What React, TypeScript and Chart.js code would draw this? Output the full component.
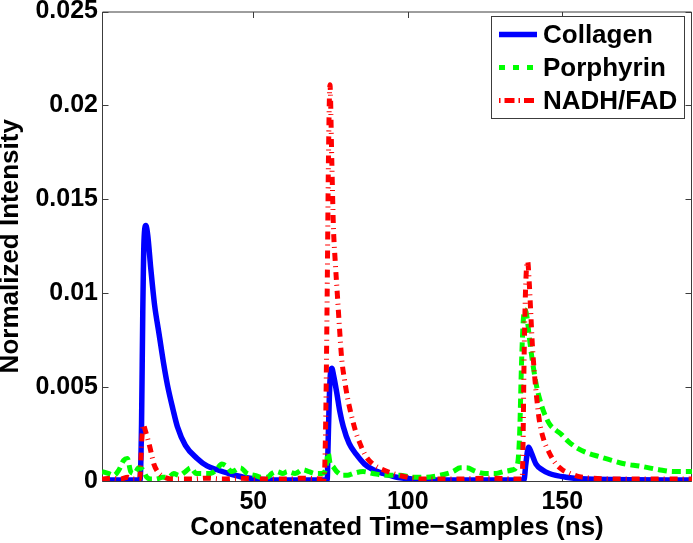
import React, { useEffect, useRef } from "react";
import { Chart, registerables } from "chart.js";

Chart.register(...registerables);

const X_MIN = 1;
const X_MAX = 192;
const Y_MIN = 0;
const Y_MAX = 0.025;
const X_TICKS = [50, 100, 150];
const Y_TICKS = [0, 0.005, 0.01, 0.015, 0.02, 0.025];
const Y_TICK_LABELS = ["0", "0.005", "0.01", "0.015", "0.02", "0.025"];
const SERIES_LABELS = ["Collagen", "Porphyrin", "NADH/FAD"];
const X_TITLE = "Concatenated Time\u2212samples (ns)";
const Y_TITLE = "Normalized Intensity";

const COLLAGEN: [number, number][] = [
  [1, 0.00005], [10, 0.00005], [13.3, 0.00005], [13.8, 0.003], [14.2, 0.009], [14.6, 0.0128],
  [15.2, 0.0136], [15.8, 0.0131], [16.8, 0.0113], [18, 0.0094], [19.5, 0.0078], [21, 0.0062],
  [22.2, 0.0051], [24, 0.0038], [25.4, 0.0029], [28, 0.0019], [31.8, 0.0012], [35, 0.0008],
  [38.3, 0.0006], [42, 0.0004], [46.8, 0.0002], [52, 0.0001], [60, 0.00005], [73.9, 0.00005],
  [74.2, 0.002], [74.6, 0.0045], [75.0, 0.0058], [75.4, 0.006], [76, 0.0056], [77, 0.0047],
  [78, 0.0037], [79.1, 0.0029], [81, 0.002], [83.4, 0.0014], [86, 0.0009], [88.8, 0.0006],
  [92, 0.0004], [96.4, 0.0002], [102, 0.0001], [110, 0.00005], [137.6, 0.00005], [138.2, 0.0009],
  [139.1, 0.0018], [140, 0.0015], [141.5, 0.0009], [143.5, 0.0006], [145.8, 0.0004], [151.2, 0.0002],
  [158, 0.0001], [192, 0.00005],
];

const PORPHYRIN: [number, number][] = [
  [1, 0.0005], [3, 0.0004], [4.8, 0.0003], [6.5, 0.0006], [8, 0.0011], [9.2, 0.0012], [10.3, 0.0005],
  [11.5, 0.0004], [12.9, 0.0007], [14.2, 0.0006], [15.5, 0.0002], [16.8, 0.0001], [18.5, 0.0001],
  [20.5, 0.0002], [22.5, 0.0002], [24.2, 0.0004], [26, 0.0003], [28, 0.0005], [29.7, 0.0007],
  [31.5, 0.0004], [33.9, 0.0004], [36.1, 0.0004], [38, 0.0006], [39.8, 0.0009], [41.2, 0.0008],
  [43, 0.0005], [45.8, 0.0007], [48, 0.0004], [50.5, 0.0003], [52.5, 0.0002], [54.5, 0.0002],
  [56, 0.0004], [57.7, 0.0005], [59.5, 0.0004], [61, 0.0005], [63.5, 0.0004], [66, 0.0006],
  [68, 0.0005], [70, 0.0004], [72, 0.0004], [73.4, 0.0006], [74.2, 0.0015], [74.9, 0.0009],
  [75.6, 0.0008], [77, 0.0005], [79, 0.0003], [80.5, 0.0003], [82.3, 0.0004], [85.5, 0.0005],
  [88.7, 0.0004], [93.1, 0.0003], [97.4, 0.0003], [101.7, 0.0002], [106, 0.0002], [110.3, 0.0003],
  [114.6, 0.0005], [117, 0.0007], [119, 0.0007], [122.2, 0.0005], [125, 0.0004], [128.6, 0.0004],
  [131, 0.0005], [134, 0.0006], [135.5, 0.0009], [136.2, 0.0025], [136.8, 0.0062], [137.4, 0.0086],
  [138, 0.0091], [138.6, 0.0087], [139.3, 0.0077], [139.9, 0.0069], [140.7, 0.006], [141.5, 0.0052],
  [142.8, 0.0043], [144.2, 0.0036], [146, 0.003], [148, 0.0027], [149.6, 0.0025], [152, 0.0021],
  [154.4, 0.0018], [158, 0.0015], [161.9, 0.0013], [166, 0.0011], [170.5, 0.0009], [175, 0.0008],
  [181.3, 0.0006], [186, 0.0005], [192, 0.0005],
];

const NADH_FAD: [number, number][] = [
  [1, 0.0001], [4, 0.00015], [7, 0.0001], [9.3, 0.0002], [11, 0.0001], [13.2, 0.0001], [13.6, 0.0012],
  [14, 0.0025], [14.4, 0.003], [15, 0.0027], [15.7, 0.0023], [16.5, 0.0018], [17.2, 0.0013],
  [17.8, 0.0009], [19, 0.0005], [21, 0.00022], [24, 0.0001], [30, 0.0001], [35, 0.00015], [40, 0.0001],
  [46, 0.00015], [52, 0.0001], [60, 0.0001], [66, 0.00015], [72.9, 0.0001], [73.4, 0.003],
  [73.9, 0.01], [74.3, 0.017], [74.8, 0.0211], [75.4, 0.017], [75.9, 0.0136], [76.5, 0.0117],
  [77.2, 0.0099], [77.9, 0.0081], [78.6, 0.0065], [79.5, 0.0054], [80.4, 0.0045], [81.3, 0.0038],
  [83, 0.0027], [84.5, 0.002], [86.5, 0.0013], [88.7, 0.0009], [92, 0.0006], [95.2, 0.0004],
  [100, 0.0002], [105, 0.0001], [115, 0.0001], [125, 0.00015], [137, 0.0001], [137.3, 0.002],
  [137.6, 0.006], [138, 0.0095], [138.4, 0.0113], [138.8, 0.0117], [139.3, 0.0106], [139.7, 0.0093],
  [140.3, 0.0073], [141, 0.0057], [141.8, 0.0043], [142.6, 0.0032], [144, 0.0022], [145.8, 0.0015],
  [148, 0.0009], [150, 0.0006], [152.5, 0.0004], [155.5, 0.00023], [160, 0.00015], [170, 0.0001],
  [180, 0.0001], [192, 0.0001],
];

const FAMILY = '"Liberation Sans", Arial, Helvetica, sans-serif';
const AXIS_COLOR = "#3c3c3c";
const LEGEND_DASHES = [[], [6, 8], [1.5, 4, 10, 4]];

const framePlugin = {
  id: "matlabFrame",
  beforeDatasetsDraw(chart: any) {
    const { ctx, chartArea: a } = chart;
    const xs = chart.scales.x;
    const ys = chart.scales.y;
    const L = a.left + 0.5;
    const R = a.right - 0.5;
    const T = a.top + 0.5;
    const B = a.bottom + 0.5;
    ctx.save();
    ctx.strokeStyle = AXIS_COLOR;
    ctx.lineWidth = 1;
    ctx.beginPath();
    ctx.rect(L, T, R - L, B - T);
    for (const t of xs.ticks) {
      const px = Math.round(xs.getPixelForValue(t.value)) + 0.5;
      ctx.moveTo(px, B);
      ctx.lineTo(px, B - 6);
      ctx.moveTo(px, T);
      ctx.lineTo(px, T + 6);
    }
    for (const t of ys.ticks) {
      const py = Math.round(ys.getPixelForValue(t.value)) + 0.5;
      ctx.moveTo(L, py);
      ctx.lineTo(L + 6, py);
      ctx.moveTo(R, py);
      ctx.lineTo(R - 6, py);
    }
    ctx.stroke();
    ctx.restore();
  },
};

const legendPlugin = {
  id: "boxLegend",
  afterDatasetsDraw(chart: any) {
    const ctx = chart.ctx;
    const x0 = 491.5;
    const y0 = 16.5;
    const w = 193;
    const h = 102;
    ctx.save();
    ctx.fillStyle = "#ffffff";
    ctx.fillRect(x0, y0, w, h);
    ctx.strokeStyle = AXIS_COLOR;
    ctx.lineWidth = 1;
    ctx.strokeRect(x0, y0, w, h);
    chart.data.datasets.forEach((ds: any, i: number) => {
      const y = 34.5 + i * 33;
      ctx.strokeStyle = ds.borderColor;
      ctx.lineWidth = ds.borderWidth;
      ctx.lineCap = "butt";
      ctx.setLineDash(LEGEND_DASHES[i]);
      ctx.beginPath();
      ctx.moveTo(499, y);
      ctx.lineTo(537, y);
      ctx.stroke();
      ctx.setLineDash([]);
      ctx.fillStyle = "#000";
      ctx.font = `bold 26px ${FAMILY}`;
      ctx.textBaseline = "middle";
      ctx.textAlign = "left";
      ctx.fillText(ds.label, 543, y + 1);
    });
    ctx.restore();
  },
};

const toPoints = (arr: [number, number][]) => arr.map(([x, y]) => ({ x, y }));

export default function App() {
  const canvasRef = useRef<HTMLCanvasElement | null>(null);

  useEffect(() => {
    document.body.style.margin = "0";
    const canvas = canvasRef.current;
    if (!canvas) return;
    const chart = new Chart(canvas, {
      type: "line",
      data: {
        datasets: [
          {
            label: SERIES_LABELS[0],
            data: toPoints(COLLAGEN),
            borderColor: "#0000ff",
            borderWidth: 5.5,
            pointRadius: 0,
            cubicInterpolationMode: "monotone",
            clip: 0,
            order: 3,
          },
          {
            label: SERIES_LABELS[1],
            data: toPoints(PORPHYRIN),
            borderColor: "#00ff00",
            borderWidth: 5,
            borderDash: [9, 5],
            pointRadius: 0,
            cubicInterpolationMode: "monotone",
            clip: 0,
            order: 2,
          },
          {
            label: SERIES_LABELS[2],
            data: toPoints(NADH_FAD),
            borderColor: "#ff0000",
            borderWidth: 5,
            borderDash: [8, 5, 1, 5],
            pointRadius: 0,
            cubicInterpolationMode: "monotone",
            clip: 0,
            order: 1,
          },
        ] as any,
      },
      options: {
        responsive: false,
        animation: false,
        layout: { padding: { top: 9, right: 1, left: 0, bottom: 0 } },
        plugins: {
          legend: { display: false },
          tooltip: { enabled: false },
        },
        scales: {
          x: {
            type: "linear",
            min: X_MIN,
            max: X_MAX,
            afterBuildTicks: (s: any) => {
              s.ticks = X_TICKS.map((v) => ({ value: v }));
            },
            afterFit: (s: any) => {
              s.height = 62;
            },
            grid: { display: false, drawTicks: false },
            border: { display: false },
            ticks: {
              color: "#000",
              font: { family: FAMILY, size: 25, weight: "bold" },
              padding: 6,
              maxRotation: 0,
              autoSkip: false,
              callback: (v: any) => String(v),
            },
            title: {
              display: true,
              text: X_TITLE,
              color: "#000",
              font: { family: FAMILY, size: 26, weight: "bold" },
              padding: 0,
            },
          },
          y: {
            type: "linear",
            min: Y_MIN,
            max: Y_MAX,
            afterBuildTicks: (s: any) => {
              s.ticks = Y_TICKS.map((v) => ({ value: v }));
            },
            afterFit: (s: any) => {
              s.width = 102;
            },
            grid: { display: false, drawTicks: false },
            border: { display: false },
            ticks: {
              color: "#000",
              font: { family: FAMILY, size: 25, weight: "bold", lineHeight: 0.6 },
              padding: 4,
              autoSkip: false,
              callback: (v: any) => {
                const i = Y_TICKS.indexOf(v);
                return i >= 0 ? Y_TICK_LABELS[i] : String(v);
              },
            },
            title: {
              display: true,
              text: Y_TITLE,
              color: "#000",
              font: { family: FAMILY, size: 26, weight: "bold", lineHeight: 0.8 },
              padding: 0,
            },
          },
        },
      } as any,
      plugins: [framePlugin, legendPlugin],
    });
    return () => chart.destroy();
  }, []);

  return (
    <div style={{ width: 693, height: 543 }}>
      <canvas ref={canvasRef} width={693} height={543} style={{ display: "block", width: 693, height: 543 }} />
    </div>
  );
}
